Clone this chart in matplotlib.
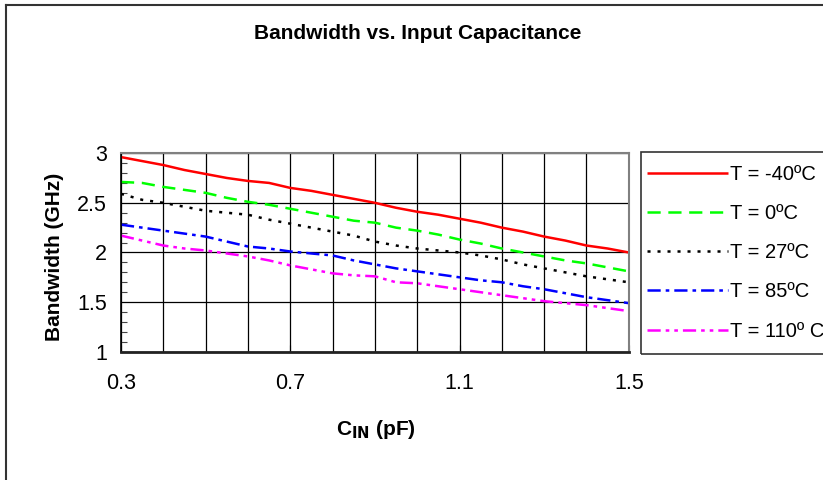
import numpy as np
import matplotlib
matplotlib.use("Agg")
import matplotlib.pyplot as plt
from matplotlib.lines import Line2D
from matplotlib.patches import Rectangle
from matplotlib.ticker import MultipleLocator

plt.rcParams['font.family'] = ['Liberation Sans', 'DejaVu Sans']
plt.rcParams['lines.scale_dashes'] = False

# capacitance (pF)
cin = [0.30, 0.35, 0.40, 0.45, 0.50, 0.55, 0.60, 0.65, 0.70, 0.75, 0.80, 0.85,
       0.90, 0.95, 1.00, 1.05, 1.10, 1.15, 1.20, 1.25, 1.30, 1.35, 1.40, 1.45, 1.50]

# bandwidth (GHz) per temperature
bw_m40 = [2.96, 2.92, 2.88, 2.83, 2.79, 2.75, 2.72, 2.70, 2.65, 2.62, 2.58, 2.54,
          2.50, 2.45, 2.41, 2.38, 2.34, 2.30, 2.25, 2.21, 2.16, 2.12, 2.07, 2.04, 2.00]
bw_0 = [2.71, 2.70, 2.66, 2.63, 2.60, 2.55, 2.51, 2.48, 2.44, 2.40, 2.36, 2.32,
        2.30, 2.25, 2.22, 2.18, 2.13, 2.09, 2.04, 2.00, 1.96, 1.92, 1.89, 1.85, 1.81]
bw_27 = [2.59, 2.53, 2.50, 2.46, 2.42, 2.40, 2.38, 2.33, 2.29, 2.25, 2.21, 2.17,
         2.11, 2.07, 2.04, 2.02, 2.00, 1.97, 1.93, 1.88, 1.84, 1.80, 1.76, 1.73, 1.70]
bw_85 = [2.28, 2.25, 2.22, 2.19, 2.16, 2.11, 2.06, 2.04, 2.01, 1.99, 1.97, 1.92,
         1.88, 1.84, 1.81, 1.78, 1.75, 1.72, 1.70, 1.66, 1.63, 1.59, 1.55, 1.52, 1.49]
bw_110 = [2.17, 2.12, 2.07, 2.04, 2.02, 1.99, 1.96, 1.92, 1.87, 1.83, 1.79, 1.77,
          1.76, 1.70, 1.69, 1.66, 1.63, 1.60, 1.57, 1.54, 1.51, 1.49, 1.47, 1.44, 1.41]

labels = ["T = -40ºC", "T = 0ºC", "T = 27ºC", "T = 85ºC", "T = 110º C"]
series = [bw_m40, bw_0, bw_27, bw_85, bw_110]
colors = ["#ff0000", "#00ff00", "#000000", "#0000ff", "#ff00ff"]
styles = ["-", (0, (9.5, 5.5)), (0, (2.2, 5)), (0, (9.5, 3.6, 2.6, 3.6)),
          (0, (9.5, 3.6, 2.6, 3.6, 2.6, 3.6))]

fig = plt.figure(figsize=(8.23, 4.8), dpi=100)
ax = fig.add_axes([0.147, 0.267, 0.617, 0.414])

for y, lab, c, ls in zip(series, labels, colors, styles):
    ax.plot(cin, y, color=c, linestyle=ls, linewidth=1.8, label=lab,
            dash_capstyle='butt', solid_capstyle='butt')

ax.set_xlim(0.3, 1.5)
ax.set_ylim(1, 3)
ax.set_xticks([0.3, 0.7, 1.1, 1.5])
ax.set_xticklabels(["0.3", "0.7", "1.1", "1.5"])
ax.set_yticks([1, 1.5, 2, 2.5, 3])
ax.set_yticklabels(["1", "1.5", "2", "2.5", "3"])
ax.xaxis.set_minor_locator(MultipleLocator(0.1))
ax.yaxis.set_minor_locator(MultipleLocator(0.1))
ax.tick_params(axis='x', which='major', direction='in', length=5, pad=15, labelsize=15.5)
ax.tick_params(axis='x', which='minor', direction='in', length=3)
ax.tick_params(axis='y', which='major', direction='in', length=0, pad=10, labelsize=15.5)
ax.tick_params(axis='y', which='minor', direction='in', length=4, width=0.8, color='#444444')

ax.grid(True, which='minor', axis='x', color='black', linewidth=0.9)
ax.grid(True, which='major', axis='x', color='black', linewidth=0.9)
ax.grid(True, which='major', axis='y', color='black', linewidth=0.9)

for s in ['top', 'right']:
    ax.spines[s].set_color('#808080')
    ax.spines[s].set_linewidth(1.5)
ax.spines['left'].set_color('black')
ax.spines['left'].set_linewidth(1.2)
ax.spines['bottom'].set_color('#222222')
ax.spines['bottom'].set_linewidth(2)

fig.text(0.507, 0.931, "Bandwidth vs. Input Capacitance", ha='center', va='center',
         fontsize=15, fontweight='bold')
ax.set_ylabel("Bandwidth (GHz)", fontsize=15, fontweight='bold')
ax.yaxis.set_label_coords(-0.112, 0.48)
fig.text(0.457, 0.105, r"C$_{\mathbf{IN}}$ (pF)", ha='center', va='center',
         fontsize=15, fontweight='bold')

# legend box drawn separately so it can run off the right edge like the original
fig.add_artist(Rectangle((641 / 823, 1 - 354 / 480), 0.3, 202 / 480,
                         transform=fig.transFigure, fill=False,
                         edgecolor='#333333', linewidth=1.2))
leg = ax.legend(loc='upper left', bbox_to_anchor=(647 / 823, 1 - 165 / 480),
                bbox_transform=fig.transFigure, borderaxespad=0, fontsize=14.5,
                handlelength=4.0, handletextpad=0.12, labelspacing=1.0,
                borderpad=0, frameon=False)

# outer chart border
fig.add_artist(Line2D([6 / 823, 6 / 823], [0, 1 - 5 / 480], transform=fig.transFigure,
                      color='#333333', linewidth=1.5))
fig.add_artist(Line2D([6 / 823, 1], [1 - 5 / 480, 1 - 5 / 480], transform=fig.transFigure,
                      color='#333333', linewidth=1.5))

fig.savefig("out.png", dpi=100)
